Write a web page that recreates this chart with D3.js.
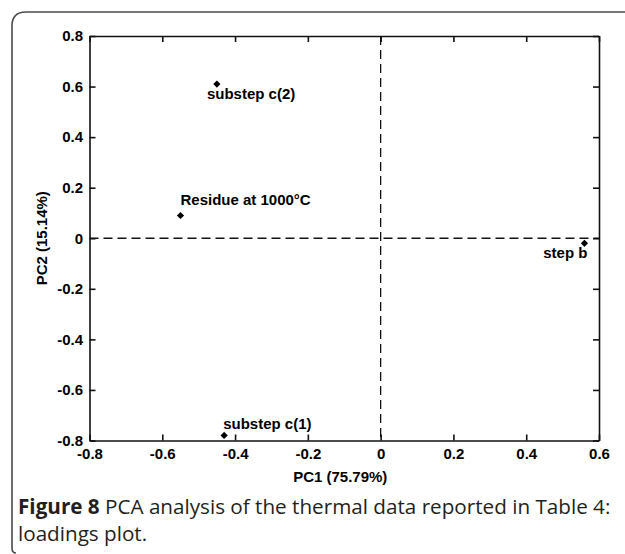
<!DOCTYPE html>
<html>
<head>
<meta charset="utf-8">
<script src="https://cdn.jsdelivr.net/npm/d3@7"></script>
<style>
  html, body { margin: 0; padding: 0; background: #fff; }
  svg { display: block; }
</style>
</head>
<body>
<svg id="chart" width="625" height="554"></svg>
<script>
// ---- data ----
const labels = ["substep c(2)", "Residue at 1000°C", "step b", "substep c(1)"];
const pc1 = [-0.45, -0.55, 0.56, -0.43];
const pc2 = [0.61, 0.09, -0.02, -0.78];
const xTicks = [-0.8, -0.6, -0.4, -0.2, 0, 0.2, 0.4, 0.6];
const xTickLabels = ["-0.8", "-0.6", "-0.4", "-0.2", "0", "0.2", "0.4", "0.6"];
const yTicks = [-0.8, -0.6, -0.4, -0.2, 0, 0.2, 0.4, 0.6, 0.8];
const yTickLabels = ["-0.8", "-0.6", "-0.4", "-0.2", "0", "0.2", "0.4", "0.6", "0.8"];
const xTitle = "PC1 (75.79%)";
const yTitle = "PC2 (15.14%)";
const captionBold = "Figure 8";
const captionLine1 = "PCA analysis of the thermal data reported in Table 4:";
const captionLine2 = "loadings plot.";

// ---- layout ----
const svg = d3.select("#chart");
const L = 89.5, R = 599, T = 36, B = 440.5;
const x = d3.scaleLinear().domain([-0.8, 0.6]).range([L, R]);
const y = d3.scaleLinear().domain([-0.8, 0.8]).range([B, T]);
const plotFont = "'Liberation Sans', Arial, sans-serif";

// outer frame (rounded top-left corner)
const r = 14;
svg.append("path")
  .attr("d", `M630,12 L${12 + r},12 Q12,12 12,${12 + r} L12,548 Q12,553 16,553`)
  .attr("fill", "none").attr("stroke", "#4a4a4a").attr("stroke-width", 1.6);

// dashed zero lines
svg.append("line")
  .attr("x1", x(-0.8)).attr("x2", x(0.6)).attr("y1", y(0)).attr("y2", y(0))
  .attr("stroke", "#111").attr("stroke-width", 1.3).attr("stroke-dasharray", "9,5");
svg.append("line")
  .attr("x1", x(0)).attr("x2", x(0)).attr("y1", y(0.8)).attr("y2", y(-0.8))
  .attr("stroke", "#111").attr("stroke-width", 1.3).attr("stroke-dasharray", "9,5");

function styleAxis(g) {
  g.selectAll("path.domain").attr("stroke", "#111").attr("stroke-width", 1.6);
  g.selectAll(".tick line").attr("stroke", "#111").attr("stroke-width", 1.6);
  g.selectAll(".tick text")
    .attr("fill", "#000")
    .style("font-family", plotFont)
    .style("font-weight", "bold")
    .style("font-size", "15px");
}

const xLabelMap = new Map(xTicks.map((t, i) => [t, xTickLabels[i]]));
const yLabelMap = new Map(yTicks.map((t, i) => [t, yTickLabels[i]]));

svg.append("g").attr("transform", `translate(0,${B})`)
  .call(d3.axisBottom(x).tickValues(xTicks).tickFormat(d => xLabelMap.get(d))
    .tickSizeInner(-6).tickSizeOuter(0).tickPadding(7.5))
  .call(styleAxis);
svg.append("g").attr("transform", `translate(0,${T})`)
  .call(d3.axisTop(x).tickValues(xTicks).tickFormat("")
    .tickSizeInner(-6).tickSizeOuter(0))
  .call(styleAxis);
svg.append("g").attr("transform", `translate(${L},0)`)
  .call(d3.axisLeft(y).tickValues(yTicks).tickFormat(d => yLabelMap.get(d))
    .tickSizeInner(-6).tickSizeOuter(0).tickPadding(6.5))
  .call(styleAxis);
svg.append("g").attr("transform", `translate(${R},0)`)
  .call(d3.axisRight(y).tickValues(yTicks).tickFormat("")
    .tickSizeInner(-6).tickSizeOuter(0))
  .call(styleAxis);

// points (square rotated 45° = diamond)
const pts = labels.map((l, i) => ({ label: l, x: pc1[i], y: pc2[i] }));
svg.append("g").selectAll("path")
  .data(pts).join("path")
  .attr("transform", d => `translate(${x(d.x)},${y(d.y)}) rotate(45)`)
  .attr("d", d3.symbol().type(d3.symbolSquare).size(26))
  .attr("fill", "#000");

// point labels
const labelPlace = [
  { dx: -10, dy: 15, anchor: "start" },
  { dx: 0, dy: -10, anchor: "start" },
  { dx: 3, dy: 15, anchor: "end" },
  { dx: -1, dy: -6, anchor: "start" }
];
svg.append("g").selectAll("text")
  .data(pts).join("text")
  .attr("x", (d, i) => x(d.x) + labelPlace[i].dx)
  .attr("y", (d, i) => y(d.y) + labelPlace[i].dy)
  .attr("text-anchor", (d, i) => labelPlace[i].anchor)
  .style("font-family", plotFont).style("font-weight", "bold").style("font-size", "15px")
  .attr("fill", "#000")
  .text(d => d.label);

// axis titles
svg.append("text")
  .attr("x", (L + R) / 2 - 4).attr("y", 482)
  .attr("text-anchor", "middle")
  .style("font-family", plotFont).style("font-weight", "bold").style("font-size", "15px")
  .text(xTitle);
svg.append("text")
  .attr("transform", `translate(47,${y(0)}) rotate(-90)`)
  .attr("text-anchor", "middle")
  .style("font-family", plotFont).style("font-weight", "bold").style("font-size", "15px")
  .text(yTitle);

// caption (bold lead + regular text as separate texts, fitted to reference width)
const capFont = "'Open Sans', 'Noto Sans', sans-serif";
const capColor = "#231f20";
const capB = svg.append("text").attr("x", 18).attr("y", 514)
  .style("font-family", capFont).style("font-weight", "bold").style("font-size", "17px")
  .attr("fill", capColor).text(captionBold);
const capR = svg.append("text").attr("y", 514)
  .style("font-family", capFont).style("font-size", "17px")
  .attr("fill", capColor).text(captionLine1);
const gap = 17 * 0.26;
const total = capB.node().getComputedTextLength() + gap + capR.node().getComputedTextLength();
const fs = 17 * 593 / total;
capB.style("font-size", fs + "px");
capR.style("font-size", fs + "px");
capR.attr("x", 18 + capB.node().getComputedTextLength() + fs * 0.26);
svg.append("text").attr("x", 18).attr("y", 541)
  .style("font-family", capFont).style("font-size", fs + "px").attr("fill", capColor)
  .text(captionLine2);
</script>
</body>
</html>
